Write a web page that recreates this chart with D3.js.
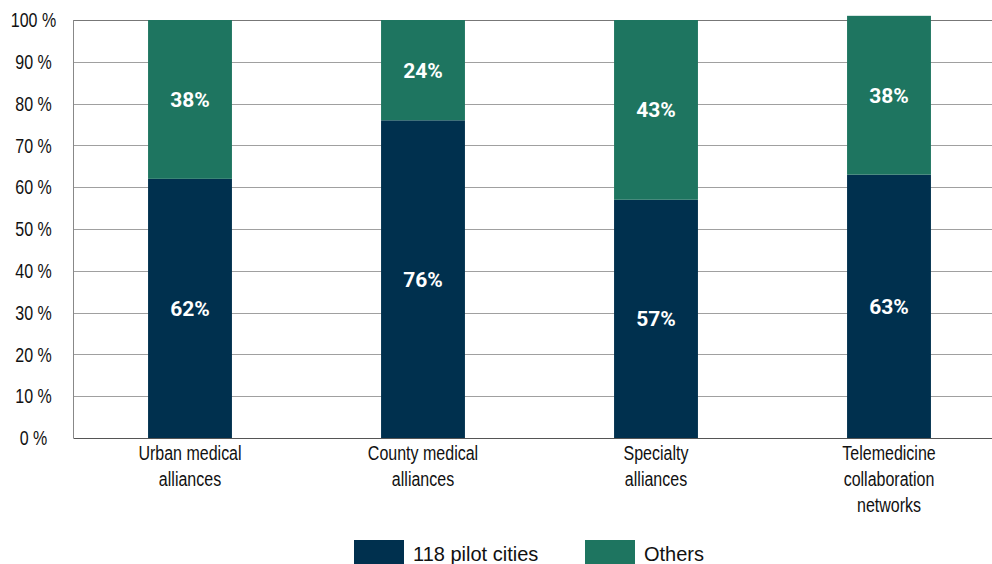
<!DOCTYPE html>
<html>
<head>
<meta charset="utf-8">
<script src="https://cdn.jsdelivr.net/npm/d3@7"></script>
<style>
  html, body { margin: 0; padding: 0; background: #fff; }
  svg { display: block; }
</style>
</head>
<body>
<svg id="chart" width="992" height="564"></svg>
<script>
// Share of alliance types located in the 118 pilot cities vs. elsewhere
const categories = [
  ["Urban medical", "alliances"],
  ["County medical", "alliances"],
  ["Specialty", "alliances"],
  ["Telemedicine", "collaboration", "networks"]
];
const pilotCities = [62, 76, 57, 63];
const others = [38, 24, 43, 38];
const seriesNames = ["118 pilot cities", "Others"];
const seriesColors = ["#00304e", "#1e7560"];
const yTicks = [0, 10, 20, 30, 40, 50, 60, 70, 80, 90, 100];

const svg = d3.select("#chart");
const margin = { left: 73.5, top: 20, bottom: 438 };
const bandStep = 233;

const x = d3.scaleBand()
  .domain(d3.range(categories.length))
  .range([margin.left, margin.left + bandStep * categories.length])
  .paddingInner(0.64)
  .paddingOuter(0.32);

const y = d3.scaleLinear().domain([0, 100]).range([margin.bottom, margin.top]);

// Condensed look for axis text: regular sans squeezed horizontally
const labelFont = "'Liberation Sans', Arial, sans-serif";
const squeeze = 0.8;
const textColor = "#111";

// Horizontal gridlines
svg.append("g")
  .selectAll("line")
  .data(yTicks.filter(t => t > 0))
  .join("line")
  .attr("x1", margin.left)
  .attr("x2", 1000)
  .attr("y1", d => Math.round(y(d)) + 0.5)
  .attr("y2", d => Math.round(y(d)) + 0.5)
  .attr("stroke", d => d === 100 ? "#777" : "#a0a0a0")
  .attr("stroke-width", 1);

// Y tick labels
svg.append("g")
  .selectAll("text")
  .data(yTicks)
  .join("text")
  .attr("transform", d => `translate(33.5,${y(d)}) scale(${squeeze},1)`)
  .attr("dy", "0.36em")
  .attr("text-anchor", "middle")
  .attr("font-family", labelFont)
  .attr("font-size", 20)
  .attr("fill", textColor)
  .text(d => d + " %");

// Stacked bars
const stackData = categories.map((c, i) => ({ i, pilot: pilotCities[i], others: others[i] }));
const stack = d3.stack().keys(["pilot", "others"])(stackData);

const layers = svg.append("g")
  .selectAll("g")
  .data(stack)
  .join("g")
  .attr("fill", (d, k) => seriesColors[k]);

layers.selectAll("rect")
  .data(d => d)
  .join("rect")
  .attr("x", d => x(d.data.i))
  .attr("width", x.bandwidth())
  .attr("y", d => y(d[1]))
  .attr("height", d => y(d[0]) - y(d[1]));

// Value labels inside each segment
layers.selectAll("text")
  .data(d => d)
  .join("text")
  .attr("x", d => x(d.data.i) + x.bandwidth() / 2)
  .attr("y", d => y((d[0] + d[1]) / 2))
  .attr("dy", "0.36em")
  .attr("text-anchor", "middle")
  .attr("font-family", "Roboto, 'Liberation Sans', sans-serif")
  .attr("font-weight", "bold")
  .attr("font-size", 21)
  .attr("fill", "#ffffff")
  .text(d => (d[1] - d[0]) + "%");

// Axis lines
svg.append("line")
  .attr("x1", margin.left).attr("x2", margin.left)
  .attr("y1", margin.top).attr("y2", margin.bottom)
  .attr("stroke", "#888").attr("stroke-width", 1);
svg.append("line")
  .attr("x1", margin.left).attr("x2", 1000)
  .attr("y1", margin.bottom + 0.5).attr("y2", margin.bottom + 0.5)
  .attr("stroke", "#555").attr("stroke-width", 1);

// Category labels
const catLabels = svg.append("g")
  .selectAll("text")
  .data(categories)
  .join("text")
  .attr("text-anchor", "middle")
  .attr("font-family", labelFont)
  .attr("font-size", 20)
  .attr("fill", textColor)
  .attr("transform", (d, i) => `translate(${x(i) + x.bandwidth() / 2},${460}) scale(${squeeze},1)`);

catLabels.selectAll("tspan")
  .data(d => d)
  .join("tspan")
  .attr("x", 0)
  .attr("y", (d, j) => j * 26)
  .text(d => d);

// Legend
const legendItems = [
  { name: seriesNames[0], color: seriesColors[0], x: 354 },
  { name: seriesNames[1], color: seriesColors[1], x: 585 }
];
const legend = svg.append("g")
  .selectAll("g")
  .data(legendItems)
  .join("g")
  .attr("transform", d => `translate(${d.x},540)`);
legend.append("rect")
  .attr("width", 50).attr("height", 26)
  .attr("fill", d => d.color);
legend.append("text")
  .attr("x", 59)
  .attr("y", 21)
  .attr("font-family", "'Liberation Sans', Arial, sans-serif")
  .attr("font-size", 20)
  .attr("fill", textColor)
  .text(d => d.name);
</script>
</body>
</html>
